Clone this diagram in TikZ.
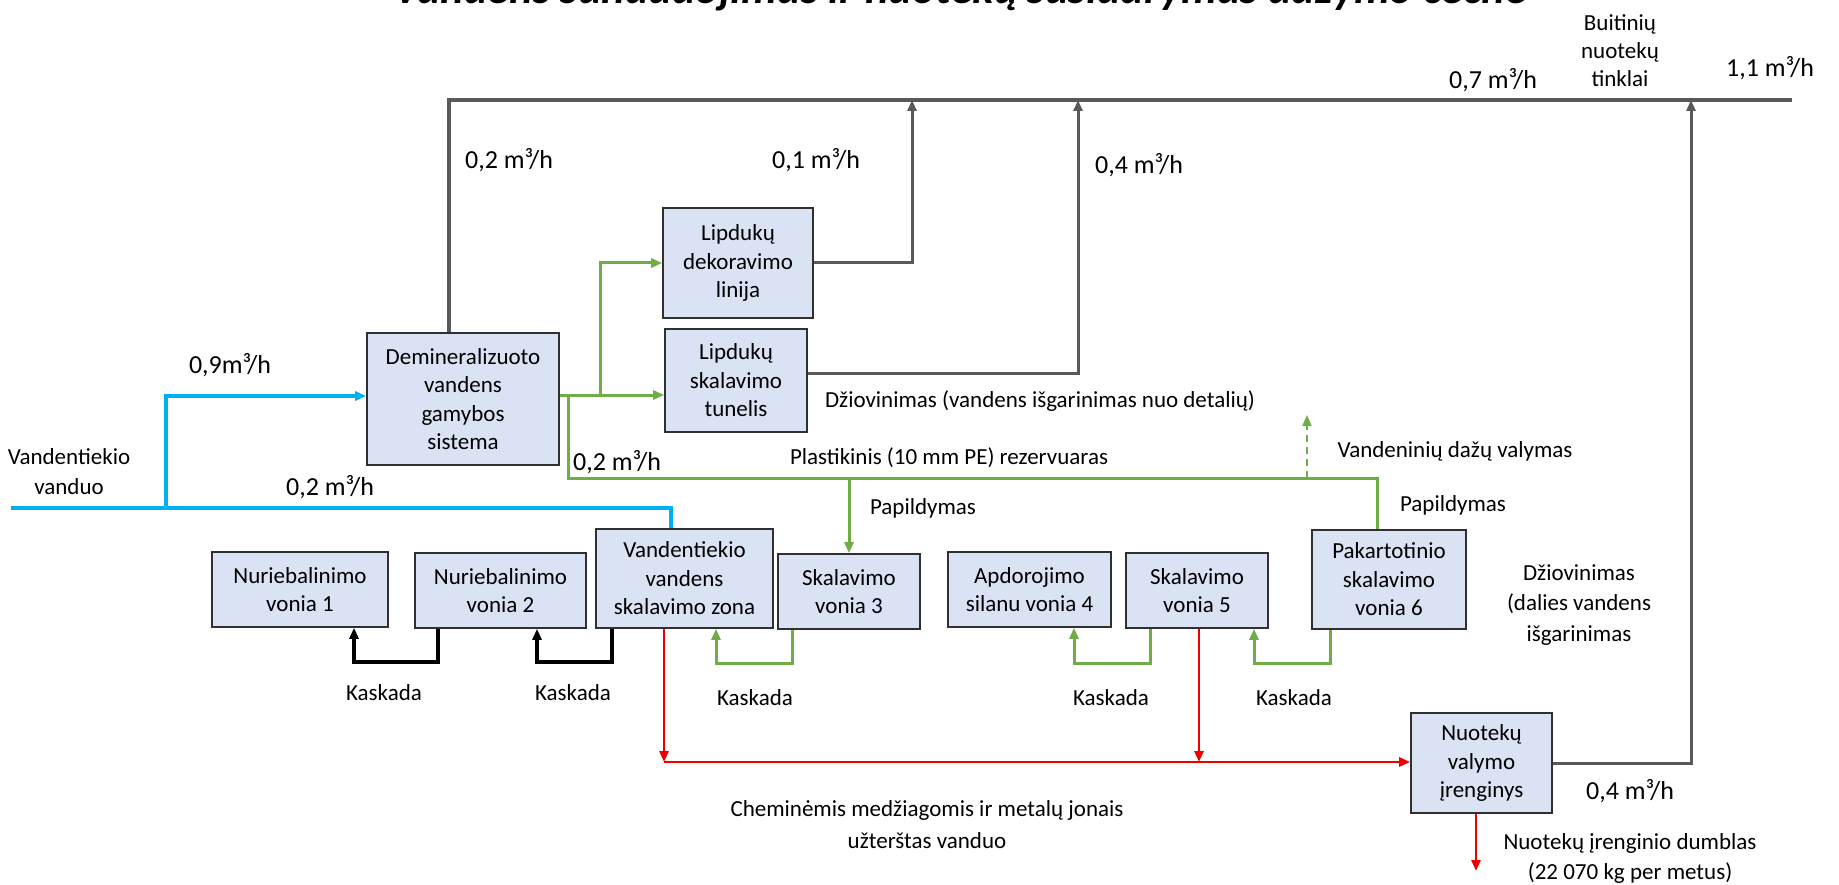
\documentclass[tikz,border=0pt]{standalone}
\usepackage{graphicx}
\usepackage{fontspec}
\setmainfont{Carlito}
\usetikzlibrary{arrows.meta}
\definecolor{boxfill}{HTML}{DAE3F3}
\definecolor{boxline}{HTML}{303030}
\definecolor{ggray}{HTML}{595959}
\definecolor{ggreen}{HTML}{70AD47}
\definecolor{bblue}{HTML}{00B0F0}
\definecolor{rred}{HTML}{EE0000}
\begin{document}
\begin{tikzpicture}[x=1pt,y=-1pt,
  font=\fontsize{23}{28.5}\selectfont,
  proc/.style={draw=boxline,line width=1.6pt,fill=boxfill,align=center,inner sep=0pt},
  lbl/.style={align=center,inner sep=0pt},
  flow/.style={inner sep=0pt,font=\fontsize{26}{30}\selectfont},
  tip/.style={-{Triangle[length=11pt,width=9pt]}},
  grayline/.style={draw=ggray,line width=3pt},
  greenline/.style={draw=ggreen,line width=3pt},
  blueline/.style={draw=bblue,line width=3.2pt},
  redline/.style={draw=rred,line width=2.8pt},
  blackline/.style={draw=black,line width=3.2pt}]
\useasboundingbox (0,0) rectangle (1839,885);

% title (cut at the top edge, as in the reference)
\node[anchor=base west,inner sep=0pt] (title) at (393,4)
  {\resizebox{1134pt}{!}{\fontsize{40}{48}\selectfont\bfseries\itshape Vandens sunaudojimas ir nuotekų susidarymas dažymo ceche}};

% boxes
\node[proc,minimum width=192pt,minimum height=132pt] (demin) at (463,399) {Demineralizuoto\\vandens\\gamybos\\sistema};
\node[proc,minimum width=150pt,minimum height=110pt] (dekor) at (738,263) {Lipdukų\\dekoravimo\\linija};
\node[proc,minimum width=142pt,minimum height=103pt] (tunel) at (736,380.5) {Lipdukų\\skalavimo\\tunelis};
\node[proc,minimum width=176pt,minimum height=75pt] (nur1) at (300,589.5) {Nuriebalinimo\\vonia 1};
\node[proc,minimum width=171pt,minimum height=75pt] (nur2) at (500.5,590.5) {Nuriebalinimo\\vonia 2};
\node[proc,minimum width=177pt,minimum height=99pt] (zona) at (684.5,578.5) {Vandentiekio\\vandens\\skalavimo zona};
\node[proc,minimum width=142pt,minimum height=75pt] (von3) at (849,591.5) {Skalavimo\\vonia 3};
\node[proc,minimum width=163pt,minimum height=75pt] (von4) at (1029.5,589.5) {Apdorojimo\\silanu vonia 4};
\node[proc,minimum width=142pt,minimum height=75pt] (von5) at (1197,590.5) {Skalavimo\\vonia 5};
\node[proc,minimum width=154pt,minimum height=99pt] (von6) at (1389,579.5) {Pakartotinio\\skalavimo\\vonia 6};
\node[proc,minimum width=141pt,minimum height=100pt] (nuot) at (1481.5,763) {Nuotekų\\valymo\\įrenginys};

% text labels
\node[lbl,font=\fontsize{23}{28}\selectfont] (buit) at (1620,51) {Buitinių\\nuotekų\\tinklai};
\node[flow] (l11) at (1770,68) {1,1 m³/h};
\node[flow] (l07) at (1493,80) {0,7 m³/h};
\node[flow] (l02a) at (509,160) {0,2 m³/h};
\node[flow] (l01) at (816,160) {0,1 m³/h};
\node[flow] (l04a) at (1139,165) {0,4 m³/h};
\node[flow] (l09) at (230,365) {0,9m³/h};
\node[lbl,font=\fontsize{23}{30}\selectfont] (vv) at (69,472) {Vandentiekio\\vanduo};
\node[flow] (l02b) at (330,487) {0,2 m³/h};
\node[flow] (l02g) at (617,462) {0,2 m³/h};
\node[lbl] (dziov1) at (1040,401) {Džiovinimas (vandens išgarinimas nuo detalių)};
\node[lbl] (plast) at (949,458) {Plastikinis (10 mm PE) rezervuaras};
\node[lbl] (vdv) at (1455,451) {Vandeninių dažų valymas};
\node[lbl] (pap1) at (923,508) {Papildymas};
\node[lbl] (pap2) at (1453,505) {Papildymas};
\node[lbl,font=\fontsize{23}{30.5}\selectfont] (dziov2) at (1579,605) {Džiovinimas\\(dalies vandens\\išgarinimas};
\node[lbl] (kask1) at (384,693) {Kaskada};
\node[lbl] (kask2) at (573,693) {Kaskada};
\node[lbl] (kask3) at (755,698) {Kaskada};
\node[lbl] (kask4) at (1111,698) {Kaskada};
\node[lbl] (kask5) at (1294,698) {Kaskada};
\node[lbl,font=\fontsize{23}{32}\selectfont] (chem) at (927,825) {Cheminėmis medžiagomis ir metalų jonais\\užterštas vanduo};
\node[flow] (l04b) at (1630,791) {0,4 m³/h};
\node[lbl,font=\fontsize{23}{30}\selectfont] (dumb) at (1630,858) {Nuotekų įrenginio dumblas\\(22 070 kg per metus)};

% gray connectors (to sewer network)
\coordinate (tl) at (449,100);
\coordinate (tr) at (1792,100);
\draw[grayline,line width=3.6pt] (demin.north -| tl) -- (tl) -- (tr);
\coordinate (a1) at (912,100);
\draw[grayline,tip] (dekor.east) -| (a1);
\coordinate (a2) at (1078,100);
\coordinate (t2) at ([yshift=7pt]tunel.east);
\draw[grayline,tip] (t2) -| (a2);
\coordinate (a3) at (1691,100);
\draw[grayline,tip] (nuot.east) -| (a3);

% blue connectors (tap water)
\coordinate (win) at (11,508);
\coordinate (bz) at (671,508);
\coordinate (bj) at (166,508);
\coordinate (dw) at ([yshift=3pt]demin.west);
\draw[blueline] (win) -- (bz) -- (bz |- zona.north);
\draw[blueline,tip] (bj) |- (dw);

% green connectors
\coordinate (g0) at ([yshift=4pt]demin.east);
\coordinate (g1) at (568,395);
\coordinate (g2) at (600,395);
\draw[greenline,tip] (g0) -- (g0 -| tunel.west);
\draw[greenline,tip] (g2) |- (dekor.west);
\coordinate (rr) at (1377,478);
\draw[greenline] (g1) |- (rr) -- (rr |- von6.north);
\draw[greenline,tip] (von3.north |- rr) -- (von3.north);
\coordinate (dt) at (1307,415);
\draw[greenline,line width=1.8pt,dash pattern=on 7pt off 5pt,-{Triangle[length=11pt,width=9pt]}] (dt |- rr) -- (dt);

% cascades
\coordinate (k1a) at (438,662); \coordinate (k1b) at (354,662);
\draw[blackline,tip] (nur2.south -| k1a) -- (k1a) -- (k1b) -- (nur1.south -| k1b);
\coordinate (k2a) at (612,662); \coordinate (k2b) at (537,662);
\draw[blackline,tip] (zona.south -| k2a) -- (k2a) -- (k2b) -- (nur2.south -| k2b);
\coordinate (k3a) at (792,663); \coordinate (k3b) at (716,663);
\draw[greenline,tip] (von3.south -| k3a) -- (k3a) -- (k3b) -- (zona.south -| k3b);
\coordinate (k4a) at (1150,663); \coordinate (k4b) at (1074,663);
\draw[greenline,tip] (von5.south -| k4a) -- (k4a) -- (k4b) -- (von4.south -| k4b);
\coordinate (k5a) at (1330,663); \coordinate (k5b) at (1254,663);
\draw[greenline,tip] (von6.south -| k5a) -- (k5a) -- (k5b) -- (von5.south -| k5b);

% red connectors (contaminated water)
\coordinate (r1) at (664,762);
\coordinate (r2) at (1199,762);
\coordinate (r3) at (1476,871);
\draw[redline,tip] (zona.south -| r1) -- (r1);
\draw[redline,tip] (r1) -- (r1 -| nuot.west);
\draw[redline,tip] (von5.south -| r2) -- (r2);
\draw[redline,tip] (nuot.south -| r3) -- (r3);
\end{tikzpicture}
\end{document}
